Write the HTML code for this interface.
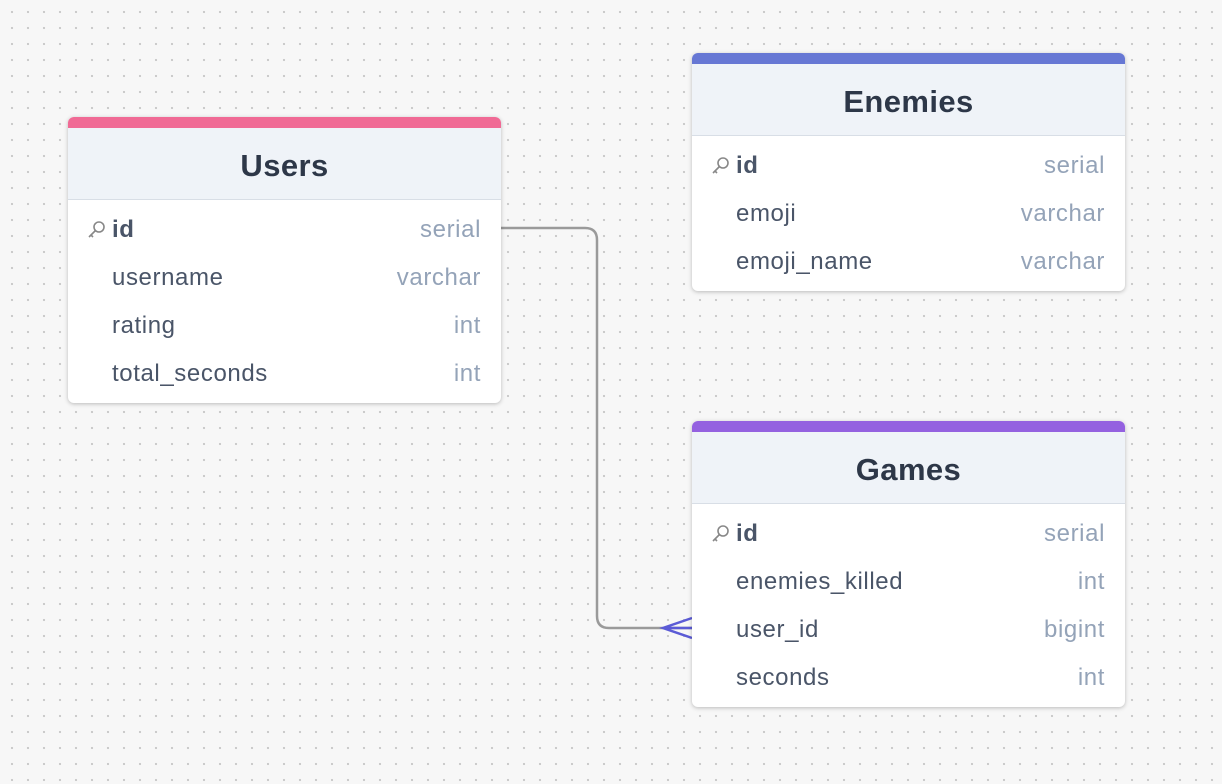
<!DOCTYPE html>
<html><head><style>
body{margin:0;width:1222px;height:784px;background-color:#f7f7f7;background-image:radial-gradient(circle,#c9c9c9 1px,transparent 1.3px);background-size:16px 16px;background-position:4px 4px;position:relative;overflow:hidden;font-family:"Liberation Sans",sans-serif}
.t{position:absolute;width:433px;background:#fff;border-radius:6px;box-shadow:0 1px 4px rgba(0,0,0,.25);overflow:hidden;padding-bottom:5px}
.bar{height:11px}
.h{height:71px;background:#eff3f8;border-bottom:1px solid #d8dee6;text-align:center;line-height:76px;font-weight:bold;font-size:31px;letter-spacing:0.4px;color:#2d3748;margin-bottom:6px}
.r{height:48px;line-height:48px;position:relative;font-size:24px;letter-spacing:0.6px;color:#4a5568}
.r .n{position:absolute;left:44px}
.r .ty{position:absolute;right:20px;color:#94a3b8}
.r.pk .n{font-weight:bold}
.k{position:absolute;left:18px;top:14px}
</style></head><body>
<svg style="position:absolute;left:0;top:0" width="1222" height="784">
<path d="M501 228 H585 Q597 228 597 240 V616 Q597 628 609 628 H692" fill="none" stroke="#9a9a9a" stroke-width="2.5"/>
<path d="M692 618 L663 628 L692 638 M663 628 H692" fill="none" stroke="#5b5bd6" stroke-width="2.5"/>
</svg>
<div class="t" style="left:68px;top:117px">
<div class="bar" style="background:#f06a95"></div><div class="h">Users</div>
<div class="r pk"><svg class="k" width="20" height="20" viewBox="0 0 20 20"><circle cx="13" cy="7" r="5" fill="none" stroke="#888" stroke-width="1.6"/><path d="M9.5 10.5 L3 17 M5 15 L7 17" stroke="#888" stroke-width="1.6" fill="none"/></svg><span class="n">id</span><span class="ty">serial</span></div>
<div class="r"><span class="n">username</span><span class="ty">varchar</span></div>
<div class="r"><span class="n">rating</span><span class="ty">int</span></div>
<div class="r"><span class="n">total_seconds</span><span class="ty">int</span></div>
</div>
<div class="t" style="left:692px;top:53px">
<div class="bar" style="background:#6677d4"></div><div class="h">Enemies</div>
<div class="r pk"><svg class="k" width="20" height="20" viewBox="0 0 20 20"><circle cx="13" cy="7" r="5" fill="none" stroke="#888" stroke-width="1.6"/><path d="M9.5 10.5 L3 17 M5 15 L7 17" stroke="#888" stroke-width="1.6" fill="none"/></svg><span class="n">id</span><span class="ty">serial</span></div>
<div class="r"><span class="n">emoji</span><span class="ty">varchar</span></div>
<div class="r"><span class="n">emoji_name</span><span class="ty">varchar</span></div>
</div>
<div class="t" style="left:692px;top:421px">
<div class="bar" style="background:#9461e0"></div><div class="h">Games</div>
<div class="r pk"><svg class="k" width="20" height="20" viewBox="0 0 20 20"><circle cx="13" cy="7" r="5" fill="none" stroke="#888" stroke-width="1.6"/><path d="M9.5 10.5 L3 17 M5 15 L7 17" stroke="#888" stroke-width="1.6" fill="none"/></svg><span class="n">id</span><span class="ty">serial</span></div>
<div class="r"><span class="n">enemies_killed</span><span class="ty">int</span></div>
<div class="r"><span class="n">user_id</span><span class="ty">bigint</span></div>
<div class="r"><span class="n">seconds</span><span class="ty">int</span></div>
</div>
</body></html>
